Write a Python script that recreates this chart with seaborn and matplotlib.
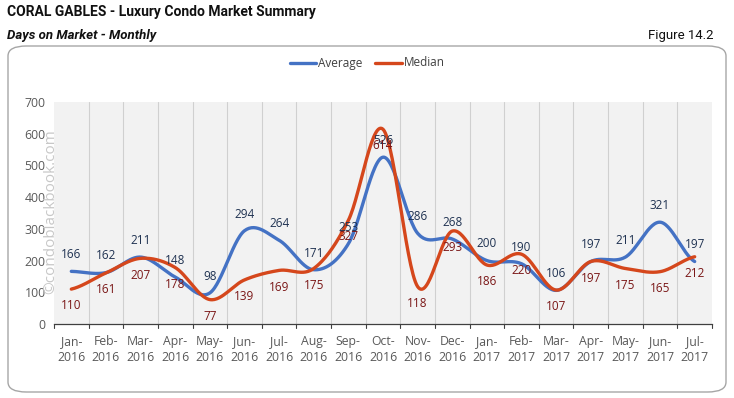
import numpy as np
import pandas as pd
import matplotlib
matplotlib.use("Agg")
import matplotlib.pyplot as plt
from matplotlib.patches import FancyBboxPatch
import seaborn as sns

# data
months = ["Jan-\n2016", "Feb-\n2016", "Mar-\n2016", "Apr-\n2016", "May-\n2016", "Jun-\n2016",
          "Jul-\n2016", "Aug-\n2016", "Sep-\n2016", "Oct-\n2016", "Nov-\n2016", "Dec-\n2016",
          "Jan-\n2017", "Feb-\n2017", "Mar-\n2017", "Apr-\n2017", "May-\n2017", "Jun-\n2017",
          "Jul-\n2017"]
average = [166, 162, 211, 148, 98, 294, 264, 171, 253, 526, 286, 268, 200, 190, 106, 197, 211, 321, 197]
median = [110, 161, 207, 178, 77, 139, 169, 175, 327, 614, 118, 293, 186, 220, 107, 197, 175, 165, 212]

blue = "#4472C4"
red = "#D5471C"


def smooth(vals, n=30):
    # catmull-rom spline, close to excel's "smoothed line"
    p = np.asarray(vals, dtype=float)
    p = np.concatenate([[p[0]], p, [p[-1]]])
    xs, ys = [], []
    for i in range(1, len(p) - 2):
        t = np.linspace(0, 1, n, endpoint=False)
        p0, p1, p2, p3 = p[i - 1], p[i], p[i + 1], p[i + 2]
        y = 0.5 * (2 * p1 + (-p0 + p2) * t + (2 * p0 - 5 * p1 + 4 * p2 - p3) * t ** 2
                   + (-p0 + 3 * p1 - 3 * p2 + p3) * t ** 3)
        xs.append(i - 1 + t)
        ys.append(y)
    xs.append([len(vals) - 1])
    ys.append([vals[-1]])
    return np.concatenate(xs), np.concatenate(ys)


sns.set_style("white")
plt.rcParams["font.family"] = ["Open Sans", "DejaVu Sans"]

fig = plt.figure(figsize=(7.34, 3.98), dpi=100)
ax = fig.add_axes([54 / 734, 1 - 324 / 398, 658 / 734, 222 / 398])

# rounded frame around the chart
frame = FancyBboxPatch((8 / 734, 6 / 398), 718 / 734, 346 / 398,
                       boxstyle="round,pad=0,rounding_size=0.025",
                       transform=fig.transFigure, facecolor="white",
                       edgecolor="#A6A6A6", linewidth=1.0, zorder=-10)
fig.patches.append(frame)

rows = []
for name, vals in [("Average", average), ("Median", median)]:
    sx, sy = smooth(vals)
    rows.append(pd.DataFrame({"x": sx, "y": sy, "series": name}))
df = pd.concat(rows, ignore_index=True)

ax.set_facecolor("#F2F2F2")
sns.lineplot(data=df, x="x", y="y", hue="series", palette=[blue, red],
             linewidth=2.4, ax=ax, legend=False, sort=False, estimator=None)

for i, (a, m) in enumerate(zip(average, median)):
    ax.annotate(str(a), (i, a), xytext=(0, 12), textcoords="offset points",
                ha="center", va="center", fontsize=8.5, color="#1F3251")
    ax.annotate(str(m), (i, m), xytext=(0, -12), textcoords="offset points",
                ha="center", va="center", fontsize=8.5, color="#7A1616")

ax.set_xlim(-0.5, len(months) - 0.5)
ax.set_ylim(0, 700)
ax.set_yticks(range(0, 701, 100))
ax.set_xticks(range(len(months)))
ax.set_xticklabels(months, fontsize=8.8, color="#595959", linespacing=1.25)
ax.tick_params(axis="x", length=0, pad=8)
ax.tick_params(axis="y", length=0, labelsize=8.8, labelcolor="#595959", pad=6)
ax.set_xlabel("")
ax.set_ylabel("")

# vertical grid between categories and boundary ticks
for b in np.arange(-0.5, len(months), 1.0):
    if -0.5 < b < len(months) - 0.5:
        ax.axvline(b, color="#D0D0D0", linewidth=0.8, zorder=0)
    ax.plot([b, b], [0, -12], color="#404040", linewidth=0.8, clip_on=False)

for s in ["top", "right", "left"]:
    ax.spines[s].set_visible(False)
ax.spines["bottom"].set_color("#404040")
ax.spines["bottom"].set_linewidth(0.9)

# legend
ly = 1 - 63 / 398
fig.lines.append(plt.Line2D([290 / 734, 316 / 734], [ly] * 2, transform=fig.transFigure,
                            color=blue, linewidth=2.4))
fig.text(318 / 734, ly, "Average", fontsize=8.5, va="center", color="#404040")
fig.lines.append(plt.Line2D([375 / 734, 402 / 734], [ly] * 2, transform=fig.transFigure,
                            color=red, linewidth=2.4))
fig.text(404 / 734, ly, "Median", fontsize=8.5, va="center", color="#404040")

# titles (the original uses a narrow face)
narrow = ["Liberation Sans Narrow", "Roboto", "DejaVu Sans"]
fig.text(7 / 734, 1 - 12 / 398, "CORAL GABLES - Luxury Condo Market Summary", fontsize=10,
         fontweight="bold", va="center", family=narrow, color="#111111")
fig.text(7 / 734, 1 - 35 / 398, "Days on Market - Monthly", fontsize=9.5, fontweight="bold",
         style="italic", va="center", family=narrow, color="#111111")
fig.text(713 / 734, 1 - 35 / 398, "Figure 14.2", fontsize=9.5, ha="right", va="center",
         family=narrow, color="#111111")

# watermark
fig.text(51 / 734, 1 - 212 / 398, "\u00a9condoblackbook.com", rotation=90, fontsize=11,
         color="#C8C8C8", ha="center", va="center")

fig.savefig("out.png", dpi=100)
